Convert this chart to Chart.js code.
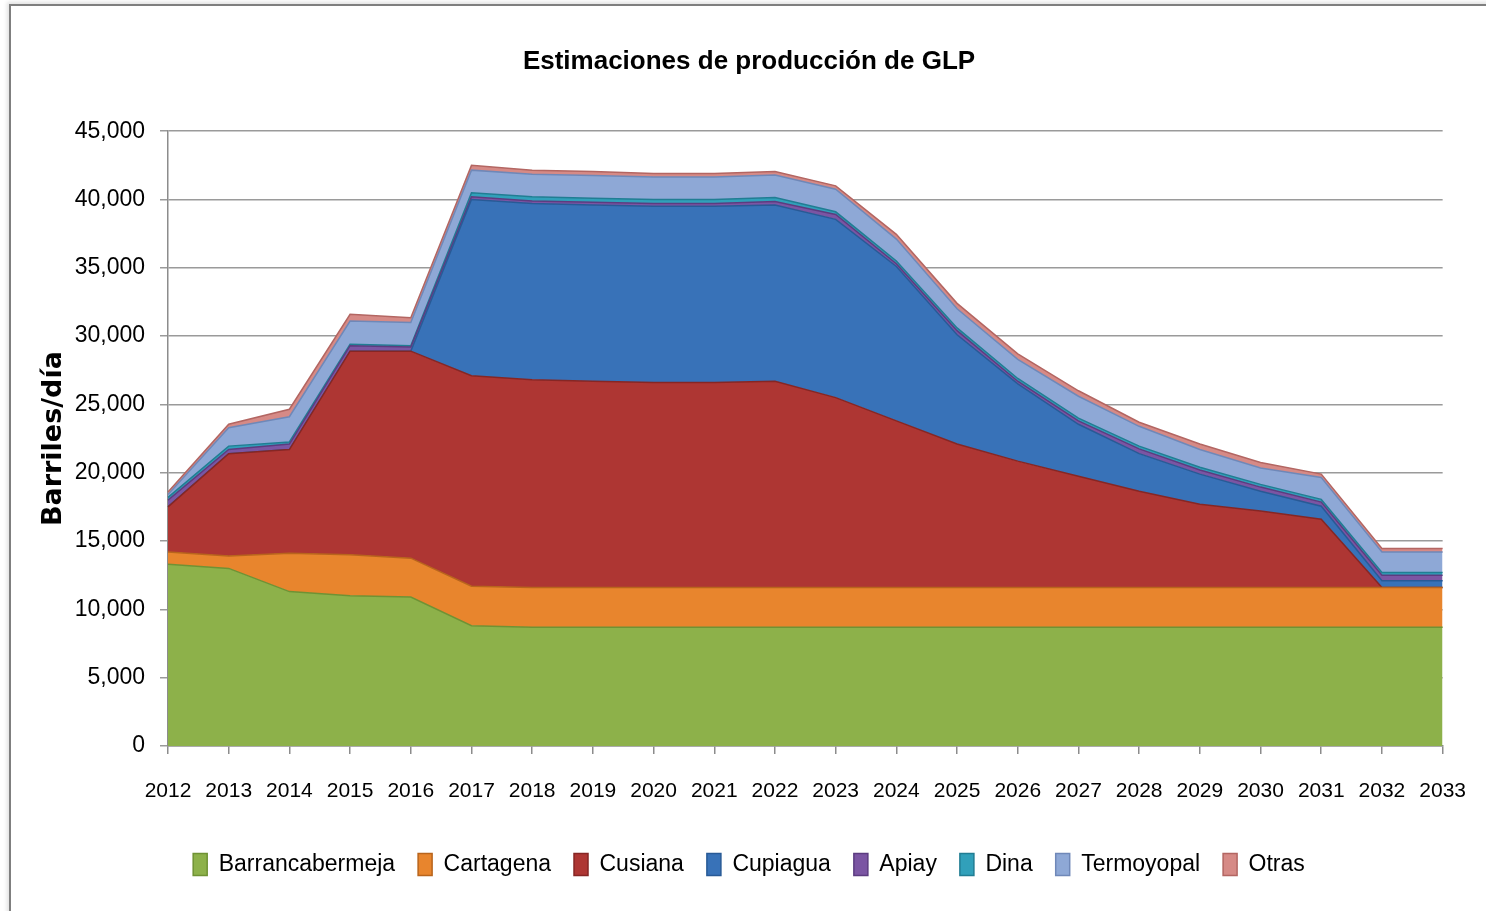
<!DOCTYPE html>
<html>
<head>
<meta charset="utf-8">
<script src="https://cdn.jsdelivr.net/npm/chart.js@4"></script>
<style>
  html, body { margin: 0; padding: 0; background: #ffffff; overflow: hidden; }
  #frame {
    position: absolute; left: 9px; top: 4px; width: 2000px; height: 2000px;
    border: 2px solid #7f7f7f; box-shadow: -2px -2px 4px rgba(0,0,0,0.12);
  }
  #wrap { position: absolute; left: 0; top: 0; width: 1486px; height: 911px; }
</style>
</head>
<body>
<div id="frame"></div>
<div id="wrap"><canvas id="glpChart"></canvas></div>
<script>
// Estimaciones de producción de GLP (barriles/día), apilado
const years = ['2012', '2013', '2014', '2015', '2016', '2017', '2018', '2019', '2020', '2021', '2022',
               '2023', '2024', '2025', '2026', '2027', '2028', '2029', '2030', '2031', '2032', '2033'];

const barrancabermeja = [13300, 13000, 11300, 11000, 10900, 8800, 8700, 8700, 8700, 8700, 8700,
                         8700, 8700, 8700, 8700, 8700, 8700, 8700, 8700, 8700, 8700, 8700];
const cartagena = [900, 900, 2800, 3000, 2850, 2900, 2900, 2900, 2900, 2900, 2900,
                   2900, 2900, 2900, 2900, 2900, 2900, 2900, 2900, 2900, 2900, 2900];
const cusiana = [3300, 7500, 7600, 14900, 15150, 15400, 15200, 15100, 15000, 15000, 15100,
                 13900, 12200, 10500, 9250, 8150, 7050, 6100, 5600, 5000, 0, 0];
const cupiagua = [0, 0, 0, 0, 0, 12900, 12900, 12900, 12900, 12900, 12900,
                  13050, 11300, 8000, 5650, 3800, 2750, 2200, 1450, 950, 500, 500];
const apiay = [500, 300, 400, 400, 300, 200, 200, 200, 200, 200, 250,
               350, 200, 300, 200, 250, 350, 300, 300, 300, 400, 400];
const dina = [200, 250, 150, 100, 100, 300, 300, 300, 300, 300, 300,
              200, 200, 200, 200, 200, 200, 200, 200, 200, 200, 200];
const termoyopal = [200, 1350, 1850, 1700, 1700, 1650, 1650, 1650, 1650, 1650, 1650,
                    1650, 1600, 1400, 1400, 1600, 1450, 1300, 1200, 1600, 1500, 1500];
const otras = [200, 250, 550, 500, 350, 350, 300, 300, 250, 250, 250,
               250, 350, 400, 400, 400, 300, 400, 400, 250, 250, 250];

const yTicks = [0, 5000, 10000, 15000, 20000, 25000, 30000, 35000, 40000, 45000];

const sans = "'Liberation Sans', Arial, sans-serif";

function area(label, data, fillColor, edgeColor, fillMode) {
    return {
        label: label,
        data: data,
        backgroundColor: fillColor,
        borderColor: edgeColor,
        borderWidth: 1.5,
        pointRadius: 0,
        tension: 0,
        fill: fillMode
    };
}

new Chart(document.getElementById('glpChart'), {
    type: 'line',
    data: {
        labels: years,
        datasets: [
            area('Barrancabermeja', barrancabermeja, '#8db14a', '#6f9234', 'origin'),
            area('Cartagena', cartagena, '#e8852d', '#b8641c', '-1'),
            area('Cusiana', cusiana, '#ae3633', '#862624', '-1'),
            area('Cupiagua', cupiagua, '#3872b8', '#285a96', '-1'),
            area('Apiay', apiay, '#7b55a3', '#5c3c80', '-1'),
            area('Dina', dina, '#31a0ba', '#217d93', '-1'),
            area('Termoyopal', termoyopal, '#8ea8d6', '#6f88b8', '-1'),
            area('Otras', otras, '#d68a86', '#b36662', '-1')
        ]
    },
    options: {
        responsive: true,
        maintainAspectRatio: false,
        animation: false,
        layout: { padding: { top: 9, right: 0, bottom: 25, left: 12 } },
        plugins: {
            title: {
                display: true,
                text: 'Estimaciones de producción de GLP',
                color: '#000000',
                font: { family: sans, size: 26, weight: 'bold' },
                padding: { top: 37, bottom: 54 }
            },
            legend: {
                display: true,
                position: 'bottom',
                labels: {
                    color: '#000000',
                    font: { family: sans, size: 23 },
                    boxWidth: 14,
                    boxHeight: 22,
                    padding: 23
                }
            },
            tooltip: { enabled: false }
        },
        scales: {
            x: {
                offset: false,
                grid: { display: true, drawOnChartArea: false, color: '#8c8c8c', lineWidth: 1.5, tickLength: 8 },
                border: { color: '#8c8c8c', width: 1.5 },
                ticks: {
                    color: '#000000',
                    font: { family: sans, size: 21, lineHeight: 1.6 },
                    padding: 20,
                    maxRotation: 0,
                    autoSkip: false
                },
                afterFit: (scale) => { scale.height = 84; }
            },
            y: {
                stacked: true,
                min: 0,
                max: 45000,
                afterBuildTicks: (scale) => { scale.ticks = yTicks.map(v => ({ value: v })); },
                grid: { color: '#9a9a9a', lineWidth: 1.5, tickLength: 8 },
                border: { color: '#8c8c8c', width: 1.5 },
                ticks: {
                    color: '#000000',
                    font: { family: sans, size: 23 },
                    padding: 15,
                    callback: (v) => v.toLocaleString('en-US')
                },
                title: {
                    display: true,
                    text: 'Barriles/día',
                    color: '#000000',
                    font: { family: "'DejaVu Sans', sans-serif", size: 27, weight: 'bold' },
                    padding: { top: 26, bottom: 0 }
                },
                afterFit: (scale) => { scale.width = 156; }
            }
        }
    }
});
</script>
</body>
</html>
